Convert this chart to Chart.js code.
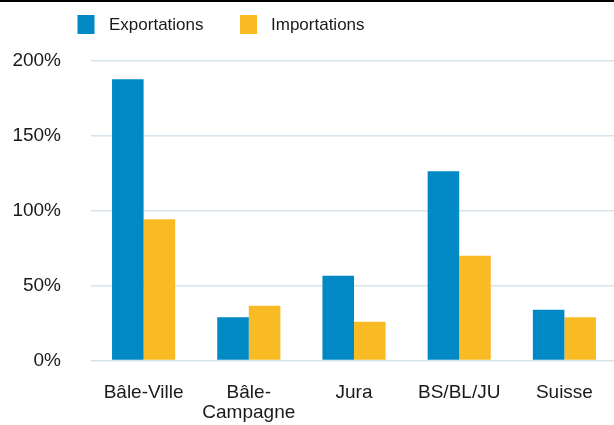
<!DOCTYPE html>
<html>
<head>
<meta charset="utf-8">
<script src="https://cdn.jsdelivr.net/npm/chart.js@4"></script>
<style>
  html, body { margin: 0; padding: 0; background: #fff; overflow: hidden; }
  #wrap { width: 617px; height: 423px; border-top: 2px solid #000; }
  canvas { display: block; }
</style>
</head>
<body>
<div id="wrap"><canvas id="c" width="617" height="423"></canvas></div>
<script>
const categories = ['Bâle-Ville', ['Bâle-', 'Campagne'], 'Jura', 'BS/BL/JU', 'Suisse'];
const exportations = [187.5, 28.8, 56.5, 126.1, 33.9];
const importations = [94.1, 36.5, 25.9, 69.9, 28.8];
const seriesNames = ['Exportations', 'Importations'];
const yTicks = [0, 50, 100, 150, 200];

const BLUE = '#0089c5';
const YELLOW = '#f9bb24';
const TEXT = '#1a1a1a';
const GRID = '#d6e3eb';
const FONT = "'Liberation Sans', Arial, sans-serif";

const customLegend = {
  id: 'customLegend',
  afterDraw(chart) {
    const ctx = chart.ctx;
    const pos = [{ box: 77.5, text: 109 }, { box: 240, text: 271 }];
    ctx.save();
    chart.data.datasets.forEach((ds, i) => {
      ctx.fillStyle = ds.backgroundColor;
      ctx.fillRect(pos[i].box, 13, 17, 19);
      ctx.fillStyle = TEXT;
      ctx.font = "17px " + FONT;
      ctx.textBaseline = 'middle';
      ctx.textAlign = 'left';
      ctx.fillText(ds.label, pos[i].text, 23.5);
    });
    ctx.restore();
  }
};

new Chart(document.getElementById('c'), {
  type: 'bar',
  data: {
    labels: categories,
    datasets: [
      { label: seriesNames[0], data: exportations, backgroundColor: BLUE },
      { label: seriesNames[1], data: importations, backgroundColor: YELLOW }
    ]
  },
  options: {
    responsive: false,
    animation: false,
    events: [],
    layout: { padding: { top: 58.5, left: 0, right: 0, bottom: 0 } },
    datasets: { bar: { categoryPercentage: 0.6, barPercentage: 1.0 } },
    plugins: {
      legend: { display: false },
      tooltip: { enabled: false }
    },
    scales: {
      x: {
        grid: { display: false, drawTicks: false },
        border: { display: false },
        ticks: {
          color: TEXT,
          font: { family: FONT, size: 19, lineHeight: 1.05 },
          padding: 22,
          maxRotation: 0,
          autoSkip: false
        },
        afterFit(scale) { scale.height = 64.5; }
      },
      y: {
        min: 0,
        max: 200,
        afterBuildTicks(scale) { scale.ticks = yTicks.map(v => ({ value: v })); },
        grid: { color: GRID, lineWidth: 1.5, drawTicks: false },
        border: { display: false },
        ticks: {
          color: TEXT,
          font: { family: FONT, size: 19 },
          padding: 30,
          callback: v => v + '%'
        },
        afterFit(scale) { scale.width = 91; }
      }
    }
  },
  plugins: [customLegend]
});
</script>
</body>
</html>
